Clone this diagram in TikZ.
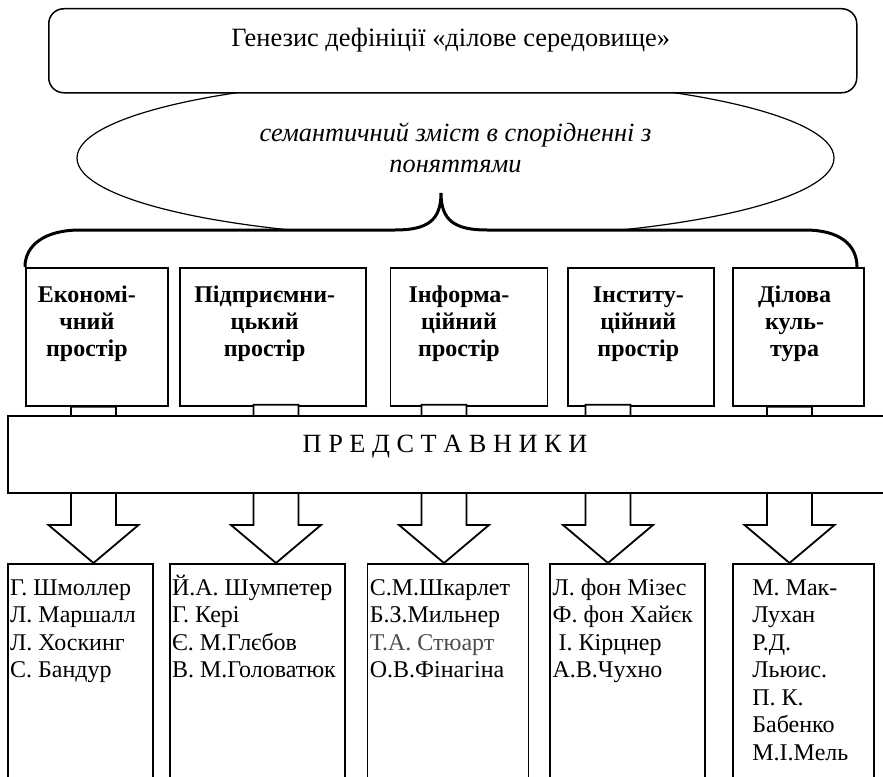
\documentclass[tikz,border=0pt]{standalone}
\usepackage{fontspec}
\setmainfont{Liberation Serif}
\usetikzlibrary{shapes.geometric,positioning,calc}

% block arrow from the top point #2 down to the tip #3, top raised by #1
\newcommand{\blokstrilka}[3][0]{%
  \draw[strilka] ($(#2)+(-22.5,-#1)$) -- ($(#3)+(-22.5,-38)$) -- ($(#3)+(-45,-38)$) -- (#3)
    -- ($(#3)+(45,-38)$) -- ($(#3)+(22.5,-38)$) -- ($(#2)+(22.5,-#1)$) -- cycle;}
\newcommand{\vysota}{\rule{0pt}{23pt}}

\begin{document}
\begin{tikzpicture}[x=1pt,y=-1pt,
    ramka/.style={draw,line width=1.8pt,fill=white,anchor=north west,inner sep=0pt,minimum height=138pt},
    spysok/.style={draw,line width=1.8pt,fill=white,anchor=north west,inner sep=0pt,minimum height=230pt},
    nazva/.style={font=\fontsize{24}{27}\selectfont\bfseries,align=center,anchor=north,inner sep=0pt},
    imena/.style={font=\fontsize{24}{27.5}\selectfont,align=left,anchor=north west,inner sep=0pt},
    strilka/.style={draw,line width=1.8pt,fill=white,line join=miter}]
  \useasboundingbox (0,0) rectangle (883,776);
  \clip (0,0) rectangle (883,776);

  % oval, cut by the title box and the brace
  \begin{scope}
    \clip (0,92) rectangle (883,230);
    \node[ellipse,draw,line width=1.2pt,inner sep=0pt,minimum width=757pt,minimum height=160pt] (zmist) at (455.5,158) {};
  \end{scope}

  \node[draw,line width=1.5pt,fill=white,rounded corners=15pt,anchor=north west,minimum width=808pt,minimum height=84pt] (genezys) at (48,8) {};
  \node[font=\fontsize{26.4}{30}\selectfont,anchor=base,inner sep=0pt] (genezys-t) at ($(genezys.north)+(-2,39)$) {Генезис дефініції «ділове середовище»};
  \node[font=\fontsize{26.3}{31}\selectfont\itshape,align=center,anchor=north,inner sep=0pt] (zmist-t) at ($(zmist.center)+(0,-38)$) {\strut семантичний зміст в спорідненні з\\поняттями};

  % brace
  \draw[line width=3pt] (25,267) .. controls (25,245) and (45,230) .. (80,230) -- (395,230)
    .. controls (428,230) and (441,220) .. (441,193) .. controls (441,220) and (454,230) .. (487,230)
    -- (805,230) .. controls (840,230) and (857,245) .. (857,267);

  % spaces
  \node[ramka,minimum width=142pt] (ekon) at (25,267) {};
  \node[ramka,minimum width=186pt,right=10pt of ekon] (pidpr) {};
  \node[ramka,minimum width=157pt,right=23pt of pidpr] (inform) {};
  \node[ramka,minimum width=146pt,right=19pt of inform] (instyt) {};
  \node[ramka,minimum width=131pt,right=17pt of instyt] (dilova) {};
  \node[nazva] (ekon-t) at ($(ekon.north)+(-10,16)$) {\strut Економі-\\чний\\простір};
  \node[nazva] (pidpr-t) at ($(pidpr.north)+(-8,16)$) {\strut Підприємни-\\цький\\простір};
  \node[nazva] (inform-t) at ($(inform.north)+(-10,16)$) {\strut Інформа-\\ційний\\простір};
  \node[nazva] (instyt-t) at ($(instyt.north)+(-3,16)$) {\strut Інститу-\\ційний\\простір};
  \node[nazva] (dilova-t) at ($(dilova.north)+(-4,16)$) {\strut Ділова\\куль-\\тура};

  % names
  \node[spysok,minimum width=145pt] (n1) at (7,563) {};
  \node[spysok,minimum width=175pt,right=15pt of n1] (n2) {};
  \node[spysok,minimum width=161pt,right=21pt of n2] (n3) {};
  \node[spysok,minimum width=155pt,right=20pt of n3] (n4) {};
  \node[spysok,minimum width=141pt,right=26pt of n4] (n5) {};
  \node[imena] (n1-t) at ($(n1.north west)+(3,9)$) {\vysota Г. Шмоллер\\Л. Маршалл\\Л. Хоскинг\\С. Бандур};
  \node[imena] (n2-t) at ($(n2.north west)+(3,9)$) {\vysota Й.А. Шумпетер\\Г. Кері\\Є. М.Глєбов\\В. М.Головатюк};
  \node[imena] (n3-t) at ($(n3.north west)+(3,9)$) {\vysota С.М.Шкарлет\\Б.З.Мильнер\\\textcolor{black!70}{Т.А. Стюарт}\\О.В.Фінагіна};
  \node[imena] (n4-t) at ($(n4.north west)+(3,9)$) {\vysota Л. фон Мізес\\Ф. фон Хайєк\\\ І. Кірцнер\\А.В.Чухно};
  \node[imena] (n5-t) at ($(n5.north west)+(20,9)$) {\vysota М. Мак-\\Лухан\\Р.Д.\\Льюис.\\П. К.\\Бабенко\\М.І.Мель};

  % arrows
  \coordinate (s1) at (93.5,0);
  \coordinate (s2) at (276,0);
  \coordinate (s3) at (444,0);
  \coordinate (s4) at (608,0);
  \coordinate (s5) at (789.5,0);
  \blokstrilka{s1 |- ekon.south}{s1 |- n1.north}
  \blokstrilka[2]{s2 |- pidpr.south}{s2 |- n2.north}
  \blokstrilka[2]{s3 |- inform.south}{s3 |- n3.north}
  \blokstrilka[2]{s4 |- instyt.south}{s4 |- n4.north}
  \blokstrilka{s5 |- dilova.south}{s5 |- n5.north}

  \node[draw,line width=1.8pt,fill=white,anchor=north west,inner sep=0pt,minimum width=900pt,minimum height=77pt] (predst) at (7,415) {};
  \node[font=\fontsize{26.3}{30}\selectfont,anchor=base,inner sep=0pt] (predst-t) at ($(predst.north west)+(438,37)$) {П Р Е Д С Т А В Н И К И};
\end{tikzpicture}
\end{document}
